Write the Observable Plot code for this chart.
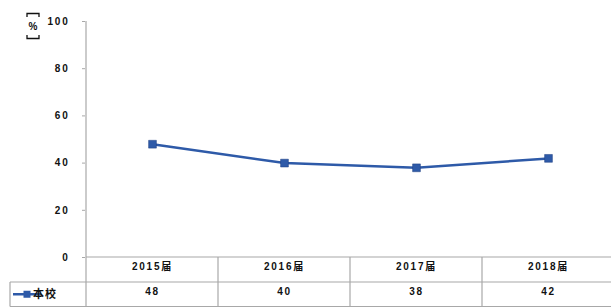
<!DOCTYPE html>
<html><head><meta charset="utf-8">
<script src="https://cdn.jsdelivr.net/npm/d3@7"></script>
<script src="https://cdn.jsdelivr.net/npm/@observablehq/plot@0.6"></script>
<style>body{margin:0;background:#fff} svg{display:block}</style>
</head><body><div id="chart"></div>
<script>
const years = ["2015届", "2016届", "2017届", "2018届"];
const values = [48, 40, 38, 42];
const seriesName = "本校";
const yTicks = [0, 20, 40, 60, 80, 100];
const unitLabel = "%";

const data = years.map((y, i) => ({year: y, value: values[i]}));
const blue = "#2e5aa8";
const grid = "#a8a8a8";
const font = "'Liberation Sans', 'Noto Sans CJK SC', sans-serif";

const chart = Plot.plot({
  width: 611, height: 307,
  marginTop: 21, marginBottom: 50, marginLeft: 85, marginRight: 0,
  style: {fontFamily: font, fontSize: "10px", fontWeight: "bold", background: "#fff", overflow: "visible", color: "#111", letterSpacing: "1.8px"},
  x: {type: "band", domain: years, range: [85, 615], padding: 0, axis: null},
  y: {domain: [0, 100], range: [257, 21], axis: null},
  marks: [
    Plot.axisY({ticks: yTicks, label: null, tickSize: 3, tickPadding: 13, tickFormat: d => String(d), stroke: grid, fill: "#111", fontWeight: "bold"}),
    Plot.line(data, {x: "year", y: "value", stroke: blue, strokeWidth: 2.5}),
    Plot.dot(data, {x: "year", y: "value", symbol: "square", fill: blue, stroke: "#1f3f80", strokeWidth: 0.5, r: 4.4}),
    Plot.text(data, {x: "year", text: "year", frameAnchor: "bottom", dy: 12, fill: "#111"}),
    Plot.text(data, {x: "year", text: d => String(d.value), frameAnchor: "bottom", dy: 37, fill: "#111"})
  ]
});
document.getElementById("chart").appendChild(chart);

// table grid and axis line, using the plot's own scales
const svg = d3.select(chart);
const xs = chart.scale("x");
const ys = chart.scale("y");
const y0 = ys.apply(0);
const row1 = y0 + 25, row2 = y0 + 49.5;
const g = svg.append("g").attr("stroke", grid).attr("stroke-width", 1.2).attr("fill", "none");
const xLeft = xs.apply(years[0]);
g.append("line").attr("x1", xLeft).attr("x2", xLeft).attr("y1", ys.apply(100)).attr("y2", row2);
g.append("line").attr("x1", xLeft).attr("x2", 611).attr("y1", y0).attr("y2", y0);
g.append("line").attr("x1", 10).attr("x2", 611).attr("y1", row1).attr("y2", row1);
g.append("line").attr("x1", 10).attr("x2", 611).attr("y1", row2).attr("y2", row2);
g.append("line").attr("x1", 10).attr("x2", 10).attr("y1", row1).attr("y2", row2);
years.slice(1).forEach(y => {
  const xx = xs.apply(y);
  g.append("line").attr("x1", xx).attr("x2", xx).attr("y1", y0).attr("y2", row2);
});
// legend swatch in table
const ly = (row1 + row2) / 2;
svg.append("line").attr("x1", 13).attr("x2", 41).attr("y1", ly).attr("y2", ly).attr("stroke", blue).attr("stroke-width", 2.5);
svg.append("rect").attr("x", 23.5).attr("y", ly - 3.5).attr("width", 7).attr("height", 7).attr("fill", blue);
svg.append("text").attr("x", 45).attr("y", ly).attr("dy", "0.35em").attr("font-family", font).attr("font-size", 11).attr("font-weight", "bold").attr("letter-spacing", "1px").attr("fill", "#111").text(seriesName);
// unit label (vertical bracketed %)
const ux = 33;
svg.append("path").attr("d", `M${ux-6},17V13.5H${ux+6}V17 M${ux-6},35V38.5H${ux+6}V35`).attr("fill", "none").attr("stroke", "#111").attr("stroke-width", 1.3);
svg.append("text").attr("x", ux).attr("y", 26).attr("text-anchor", "middle").attr("dy", "0.35em").attr("letter-spacing", "0")
  .attr("font-family", font).attr("font-size", 10).attr("font-weight", "bold").attr("fill", "#111").text(unitLabel);
</script>
</body></html>
